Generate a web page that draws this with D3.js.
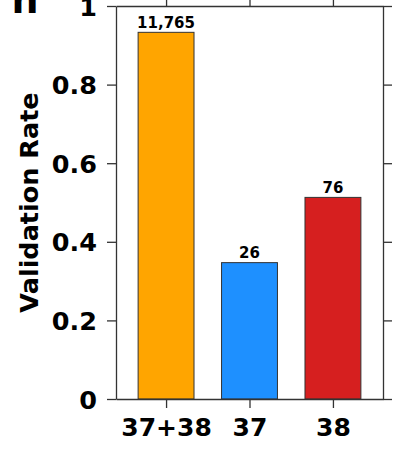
<!DOCTYPE html>
<html>
<head>
<meta charset="utf-8">
<script src="https://cdn.jsdelivr.net/npm/d3@7/dist/d3.min.js"></script>
<style>
  html, body { margin: 0; padding: 0; background: #fff; }
  svg { display: block; }
  text { font-family: "DejaVu Sans", sans-serif; font-weight: bold; fill: #000; }
</style>
</head>
<body>
<div id="chart"></div>
<script>
// Validation rate by group, with sample counts above each bar
const categories = ["37+38", "37", "38"];
const rates = [0.933, 0.347, 0.513];
const counts = ["11,765", "26", "76"];
const barColors = ["#FFA500", "#1E90FF", "#D61F1F"];
const yTicks = [0, 0.2, 0.4, 0.6, 0.8, 1];
const yTickLabels = ["0", "0.2", "0.4", "0.6", "0.8", "1"];

const width = 411, height = 451;
const margin = { top: 6, right: 28, bottom: 52, left: 116 };
const plotW = width - margin.left - margin.right;
const plotH = height - margin.top - margin.bottom;
const axisColor = "#333";

const svg = d3.select("#chart").append("svg")
  .attr("width", width).attr("height", height);

// panel letter (partially outside the canvas)
svg.append("text")
  .attr("x", 11.5).attr("y", 12.7)
  .style("font-size", "38px")
  .text("h");

const g = svg.append("g").attr("transform", `translate(${margin.left},${margin.top})`);

const x = d3.scalePoint().domain(categories).range([0, plotW]).padding(0.6);
const barW = x.step() * 0.67;
const y = d3.scaleLinear().domain([0, 1]).range([plotH, 0]);

// bars
g.selectAll("rect.bar").data(categories).join("rect")
  .attr("class", "bar")
  .attr("x", d => x(d) - barW / 2)
  .attr("y", (d, i) => y(rates[i]))
  .attr("width", barW)
  .attr("height", (d, i) => plotH - y(rates[i]))
  .attr("fill", (d, i) => barColors[i])
  .attr("stroke", axisColor)
  .attr("stroke-width", 1);

// count labels
g.selectAll("text.count").data(categories).join("text")
  .attr("class", "count")
  .attr("x", d => x(d))
  .attr("y", (d, i) => y(rates[i]) - 4.5)
  .attr("text-anchor", "middle")
  .style("font-size", "15px")
  .text((d, i) => counts[i]);

function styleAxis(sel) {
  sel.select(".domain").attr("stroke", axisColor).attr("stroke-width", 1.3);
  sel.selectAll(".tick line").attr("stroke", axisColor).attr("stroke-width", 1.3);
}

const yLabelFmt = d => yTickLabels[yTicks.indexOf(d)];

// left axis
g.append("g")
  .call(d3.axisLeft(y).tickValues(yTicks).tickFormat(yLabelFmt).tickSize(9).tickPadding(10).tickSizeOuter(0))
  .call(styleAxis)
  .call(a => a.selectAll(".tick text").style("font-size", "25.5px").style("font-family", "DejaVu Sans").style("font-weight", "bold").attr("fill", "#000").attr("dy", "0.36em"));

// right axis (ticks only)
g.append("g").attr("transform", `translate(${plotW},0)`)
  .call(d3.axisRight(y).tickValues(yTicks).tickFormat("").tickSize(9).tickSizeOuter(0))
  .call(styleAxis);

// bottom axis
g.append("g").attr("transform", `translate(0,${plotH})`)
  .call(d3.axisBottom(x).tickSize(9).tickPadding(10).tickSizeOuter(0))
  .call(styleAxis)
  .call(a => a.selectAll(".tick text").style("font-size", "25px").style("font-family", "DejaVu Sans").style("font-weight", "bold").attr("fill", "#000").attr("dy", "0.72em"));

// top axis (ticks only)
g.append("g")
  .call(d3.axisTop(x).tickFormat("").tickSize(9).tickSizeOuter(0))
  .call(styleAxis);

// y axis title
svg.append("text")
  .attr("transform", `translate(38,${margin.top + plotH / 2}) rotate(-90)`)
  .attr("text-anchor", "middle")
  .style("font-size", "25.5px")
  .text("Validation Rate");
</script>
</body>
</html>
